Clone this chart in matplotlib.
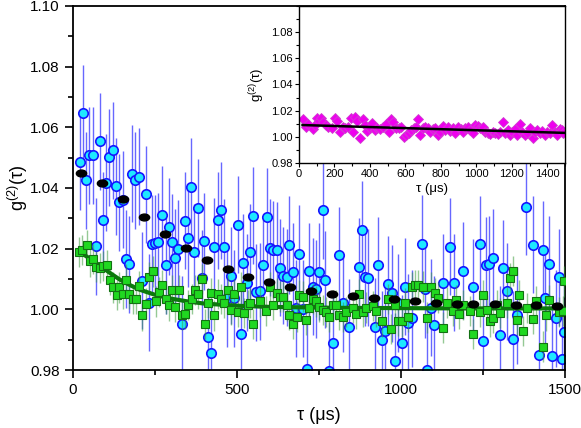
import matplotlib
matplotlib.use('Agg')
import matplotlib.pyplot as plt
from matplotlib.path import Path
from matplotlib.ticker import MultipleLocator, FormatStrFormatter, FixedLocator

plt.rcParams['font.family'] = ['Liberation Sans', 'DejaVu Sans']
plt.rcParams['mathtext.default'] = 'regular'

# cyan circles with blue error bars
cyan_tau = [21, 31, 40, 50, 62, 70, 81, 91, 101, 111, 121, 131, 141, 152, 161, 172, 180, 190, 201, 211,
            222, 232, 240, 250, 260, 272, 283, 292, 302, 312, 321, 331, 341, 352, 361, 369, 382, 392, 400, 412,
            421, 431, 441, 451, 460, 469, 481, 491, 502, 511, 519, 531, 541, 550, 558, 570, 580, 591, 601, 611,
            621, 631, 639, 652, 660, 672, 680, 690, 700, 712, 720, 731, 741, 751, 761, 769, 781, 792, 812, 822,
            842, 871, 880, 890, 900, 921, 931, 941, 951, 961, 972, 982, 992, 1002, 1012, 1022, 1033, 1063, 1073, 1080,
            1091, 1100, 1129, 1151, 1162, 1190, 1220, 1241, 1251, 1259, 1269, 1281, 1302, 1310, 1322, 1342, 1353, 1381, 1402, 1421,
            1432, 1440, 1451, 1461, 1472, 1481, 1492, 1497]
cyan_g = [1.0487, 1.0646, 1.0425, 1.0508, 1.0508, 1.0208, 1.0554, 1.0293, 1.0417, 1.0502, 1.0524, 1.0406, 1.0353, 1.0362, 1.0166, 1.0149, 1.0447, 1.0426, 1.0437, 1.0094,
          1.0379, 1.0022, 1.0216, 1.0218, 1.0223, 1.0312, 1.0146, 1.0272, 1.0221, 1.0170, 1.0199, 0.9951, 1.0292, 1.0234, 1.0404, 1.0188, 1.0334, 1.0103, 1.0224, 0.9909,
          0.9855, 1.0207, 1.0293, 1.0327, 1.0204, 1.0037, 1.0111, 1.0037, 1.0279, 0.9918, 1.0153, 1.0087, 1.0188, 1.0309, 1.0057, 1.0059, 1.0147, 1.0306, 1.0203, 1.0197,
          1.0194, 1.0137, 1.0111, 1.0106, 1.0212, 1.0123, 1.0003, 1.0183, 1.0002, 0.9802, 1.0125, 1.0075, 1.0067, 1.0124, 1.0327, 1.0098, 0.9797, 0.9888, 1.0178, 1.0020,
          0.9941, 1.0140, 1.0263, 1.0106, 1.0104, 0.9943, 1.0146, 0.9899, 0.9927, 1.0082, 1.0053, 0.9829, 1.0021, 0.9888, 1.0075, 0.9956, 0.9971, 1.0217, 1.0067, 0.9800,
          1.0006, 0.9949, 1.0087, 1.0206, 1.0087, 1.0127, 1.0073, 1.0214, 0.9896, 1.0145, 1.0149, 1.0170, 0.9916, 1.0136, 1.0059, 0.9901, 0.9980, 1.0338, 1.0213, 0.9850,
          1.0197, 1.0037, 1.0149, 0.9847, 0.9971, 1.0105, 0.9835, 0.9925]
cyan_err = 0.016

# black dots
black_tau = [24, 88, 152, 216, 280, 344, 408, 472, 534, 598, 661, 725, 789, 853, 918, 979, 1043, 1107, 1172, 1221,
             1286, 1350, 1413, 1476]
black_g = [1.0451, 1.0418, 1.0365, 1.0306, 1.0250, 1.0203, 1.0164, 1.0134, 1.0108, 1.0091, 1.0074, 1.0061, 1.0051, 1.0044, 1.0038, 1.0033, 1.0029, 1.0022, 1.0019, 1.0018,
           1.0016, 1.0013, 1.0013, 1.0011]

# green squares
green_tau = [19, 29, 42, 52, 62, 70, 82, 92, 103, 113, 121, 133, 141, 152, 162, 172, 182, 192, 201, 211,
             223, 232, 243, 252, 262, 272, 283, 292, 302, 312, 322, 332, 341, 352, 362, 372, 382, 392, 402, 411,
             421, 431, 441, 451, 461, 472, 482, 492, 502, 512, 522, 533, 540, 550, 570, 590, 601, 611, 621, 631,
             641, 652, 660, 670, 682, 690, 700, 710, 721, 731, 741, 751, 761, 771, 781, 792, 802, 812, 822, 832,
             853, 863, 873, 883, 893, 914, 924, 941, 961, 970, 982, 992, 1002, 1012, 1022, 1033, 1043, 1053, 1066, 1078,
             1091, 1104, 1114, 1129, 1139, 1158, 1168, 1178, 1190, 1210, 1220, 1241, 1251, 1261, 1271, 1281, 1292, 1302, 1322, 1332,
             1342, 1353, 1361, 1373, 1385, 1402, 1412, 1432, 1442, 1452, 1483, 1493, 1497]
green_g = [1.0189, 1.0196, 1.0211, 1.0158, 1.0166, 1.0141, 1.0136, 1.0143, 1.0145, 1.0098, 1.0072, 1.0048, 1.0072, 1.0050, 1.0098, 1.0050, 1.0035, 1.0035, 1.0078, 0.9980,
           1.0019, 1.0105, 1.0125, 1.0026, 1.0057, 1.0079, 1.0035, 1.0013, 1.0064, 1.0009, 1.0064, 0.9982, 0.9985, 1.0015, 1.0035, 1.0064, 1.0051, 1.0101, 0.9952, 1.0020,
           1.0053, 0.9980, 1.0051, 1.0035, 1.0020, 1.0064, 0.9998, 1.0050, 0.9991, 1.0072, 0.9987, 1.0015, 1.0020, 0.9951, 1.0026, 0.9995, 1.0074, 1.0015, 1.0053, 1.0042,
           1.0042, 1.0013, 0.9982, 0.9952, 0.9976, 1.0046, 1.0042, 0.9965, 1.0004, 1.0035, 1.0026, 1.0009, 0.9998, 0.9991, 0.9976, 1.0013, 1.0015, 0.9982, 0.9975, 0.9991,
           1.0004, 0.9984, 1.0050, 0.9991, 1.0006, 1.0012, 0.9993, 0.9960, 1.0035, 0.9936, 1.0015, 0.9962, 0.9960, 1.0020, 0.9976, 1.0072, 1.0079, 1.0081, 1.0075, 0.9973,
           1.0074, 1.0053, 1.0039, 0.9940, 1.0022, 0.9995, 1.0031, 0.9984, 1.0015, 0.9995, 0.9918, 0.9991, 1.0048, 0.9998, 0.9960, 0.9971, 1.0015, 0.9987, 1.0022, 1.0103,
           1.0127, 0.9965, 1.0048, 0.9929, 1.0004, 0.9969, 1.0028, 0.9877, 0.9980, 1.0031, 0.9991, 0.9995, 1.0092]
green_err = 0.005

# dark green fit curve
fit_tau = [20, 50, 80, 110, 140, 170, 200, 250, 300, 350, 400, 500, 600, 800, 1000, 1200, 1500]
fit_g = [1.0190, 1.0168, 1.0146, 1.0122, 1.0100, 1.0082, 1.0066, 1.0048, 1.0035, 1.0026, 1.0019, 1.0012, 1.0008, 1.0005, 1.0004, 1.0003, 1.0003]

# inset: magenta diamonds and linear fit
ins_tau = [24, 38, 52, 77, 90, 99, 112, 124, 137, 150, 165, 184, 202, 217, 234, 249, 262, 277, 292, 303,
           315, 330, 345, 362, 371, 386, 399, 414, 427, 442, 459, 474, 493, 508, 521, 532, 545, 562, 577, 592,
           605, 620, 633, 648, 661, 670, 685, 698, 713, 726, 741, 754, 768, 783, 796, 811, 824, 839, 854, 867,
           882, 895, 911, 924, 939, 952, 967, 980, 995, 1008, 1021, 1036, 1049, 1064, 1079, 1092, 1107, 1120, 1135, 1148,
           1163, 1176, 1191, 1204, 1219, 1232, 1248, 1260, 1275, 1288, 1304, 1317, 1332, 1345, 1360, 1373, 1388, 1401, 1416, 1427,
           1443, 1457, 1471, 1482, 1491]
ins_g = [1.0134, 1.0077, 1.0095, 1.0057, 1.0090, 1.0141, 1.0121, 1.0141, 1.0111, 1.0090, 1.0077, 1.0070, 1.0141, 1.0121, 1.0034, 1.0077, 1.0070, 1.0077, 1.0141, 1.0039,
         1.0153, 1.0123, 0.9993, 1.0134, 1.0090, 1.0044, 1.0070, 1.0103, 1.0052, 1.0070, 1.0060, 1.0077, 1.0095, 1.0039, 1.0136, 1.0115, 1.0065, 1.0070, 1.0077, 1.0001,
         1.0014, 1.0027, 1.0052, 1.0065, 1.0077, 1.0134, 1.0014, 1.0065, 1.0073, 1.0065, 1.0039, 1.0060, 1.0065, 1.0014, 1.0039, 1.0085, 1.0052, 1.0077, 1.0044, 1.0070,
         1.0027, 1.0077, 1.0060, 1.0039, 1.0065, 1.0077, 1.0052, 1.0027, 1.0090, 1.0085, 1.0065, 1.0077, 1.0039, 1.0027, 1.0019, 1.0039, 1.0027, 1.0019, 1.0039, 1.0111,
         1.0027, 1.0052, 1.0014, 1.0039, 1.0060, 1.0014, 1.0095, 1.0039, 1.0014, 1.0027, 1.0065, 0.9993, 1.0039, 1.0052, 1.0027, 1.0044, 1.0014, 1.0039, 1.0027, 1.0090,
         1.0039, 1.0014, 1.0060, 1.0052, 1.0027]
ins_err = 0.0012
ins_fit_tau = [20, 1500]
ins_fit_g = [1.0090, 1.0030]

ell = Path.unit_circle()
ellipse = Path(ell.vertices * [1.35, 0.9], ell.codes)

fig = plt.figure(figsize=(5.81, 4.28), dpi=100)
ax = fig.add_axes([0.1256, 0.1355, 0.8468, 0.8505])

ax.errorbar(cyan_tau, cyan_g, yerr=cyan_err, fmt='none', ecolor='#3434ff', elinewidth=1, alpha=0.75, zorder=1)
ax.plot(cyan_tau, cyan_g, 'o', ms=6.8, mfc='#1ee8ff', mec='#1515ff', mew=1.2, zorder=2)
ax.errorbar(green_tau, green_g, yerr=green_err, fmt='none', ecolor='#3e9e3e', elinewidth=1, alpha=0.55, zorder=3)
ax.plot(fit_tau, fit_g, color='#0b7a0b', lw=3, zorder=4)
ax.plot(green_tau, green_g, 's', ms=5.6, mfc='#20d820', mec='#137013', mew=0.8, zorder=5)
ax.plot(black_tau, black_g, marker=ellipse, ls='none', ms=7.4, color='black', zorder=6)

ax.set_xlim(0, 1500)
ax.set_ylim(0.98, 1.10)
ax.xaxis.set_major_locator(MultipleLocator(500))
ax.xaxis.set_minor_locator(MultipleLocator(250))
ax.yaxis.set_major_locator(MultipleLocator(0.02))
ax.yaxis.set_minor_locator(MultipleLocator(0.01))
ax.yaxis.set_major_formatter(FormatStrFormatter('%.2f'))
ax.tick_params(which='both', direction='out', width=1.2, labelsize=11, top=False, right=False)
ax.tick_params(which='major', length=6)
ax.tick_params(which='minor', length=3.5)
for s in ax.spines.values():
    s.set_linewidth(1.3)
ax.set_xlabel('τ (μs)', fontsize=13, labelpad=7)
ax.set_ylabel('g$^{(2)}$(τ)', fontsize=13, labelpad=0)

# inset
axin = fig.add_axes([0.5146, 0.6192, 0.4578, 0.3668])
axin.errorbar(ins_tau, ins_g, yerr=ins_err, fmt='none', ecolor='#f0a0f0', elinewidth=1, zorder=1)
axin.plot(ins_tau, ins_g, 'D', ms=5, mfc='#ee00ee', mec='#d040d0', mew=0.6, zorder=2)
axin.plot(ins_fit_tau, ins_fit_g, color='black', lw=1.8, zorder=3)
axin.set_xlim(0, 1500)
axin.set_ylim(0.98, 1.10)
axin.xaxis.set_major_locator(MultipleLocator(200))
axin.xaxis.set_minor_locator(MultipleLocator(100))
axin.yaxis.set_major_locator(FixedLocator([0.98, 1.00, 1.02, 1.04, 1.06, 1.08]))
axin.yaxis.set_minor_locator(MultipleLocator(0.01))
axin.yaxis.set_major_formatter(FormatStrFormatter('%.2f'))
axin.tick_params(which='both', direction='out', width=0.8, labelsize=8, top=False, right=False, pad=1.5)
axin.tick_params(which='major', length=3)
axin.tick_params(which='minor', length=2)
for s in axin.spines.values():
    s.set_linewidth(1.0)
axin.set_xlabel('τ (μs)', fontsize=9.5, labelpad=3)
axin.set_ylabel('g$^{(2)}$(τ)', fontsize=9.5, labelpad=3)

fig.savefig('out.png', dpi=100)
